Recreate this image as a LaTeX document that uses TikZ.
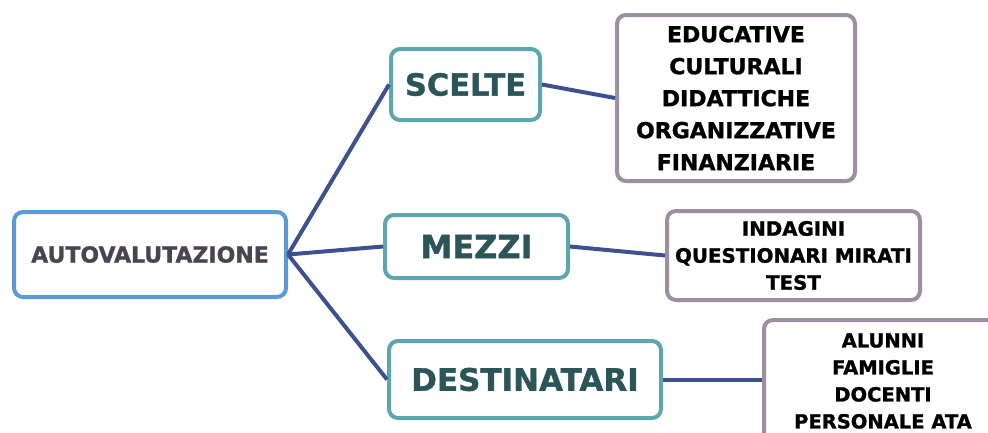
\documentclass[tikz,border=0pt]{standalone}
\usepackage{fontspec}
\setmainfont{DejaVu Sans}[BoldFeatures={FakeBold=1.2}]
\definecolor{autoblue}{HTML}{5B9BD5}
\definecolor{tealb}{HTML}{5DA5B0}
\definecolor{purpb}{HTML}{9D8EA0}
\definecolor{tealtext}{HTML}{2C5559}
\definecolor{autotext}{HTML}{4B4450}
\definecolor{connblue}{HTML}{3D5191}
\begin{document}
\begin{tikzpicture}[x=1pt,y=-1pt,
  box/.style={draw, line width=4pt, rounded corners=9pt, fill=white, align=center, inner sep=0pt},
  rootbox/.style={box, draw=autoblue, text=autotext, font=\bfseries\fontsize{22}{26}\selectfont},
  midbox/.style={box, draw=tealb, text=tealtext},
  leafbox/.style={box, draw=purpb, text=black},
  conn/.style={draw=connblue, line width=4pt}]
\useasboundingbox (0,0) rectangle (988,432);

\node[rootbox, minimum width=272pt, minimum height=85pt] (auto) at (150,254.5) {AUTOVALUTAZIONE};

\node[midbox, minimum width=149pt, minimum height=71pt, font=\bfseries\fontsize{30.5}{34}\selectfont] (scelte) at (465.5,84.5) {SCELTE};
\node[midbox, minimum width=183pt, minimum height=63pt, font=\bfseries\fontsize{32}{36}\selectfont] (mezzi) at (476.5,246.5) {MEZZI};
\node[midbox, minimum width=272pt, minimum height=77pt, font=\bfseries\fontsize{31}{36}\selectfont] (dest) at (525,379.5) {DESTINATARI};

\node[leafbox, minimum width=238pt, minimum height=166pt, font=\bfseries\fontsize{22}{32}\selectfont] (scelteleaf) at (736,98) {EDUCATIVE\\CULTURALI\\DIDATTICHE\\ORGANIZZATIVE\\FINANZIARIE};
\node[leafbox, minimum width=253pt, minimum height=89pt, font=\bfseries\fontsize{19.8}{27}\selectfont] (mezzileaf) at (793.5,255.5) {INDAGINI\\QUESTIONARI MIRATI\\TEST};
\node[leafbox, minimum width=238pt, minimum height=122pt, font=\bfseries\fontsize{19.5}{27}\selectfont] (destleaf) at (883,381) {ALUNNI\\FAMIGLIE\\DOCENTI\\PERSONALE ATA};

\draw[conn] (auto.east) -- (scelte.west);
\draw[conn] (auto.east) -- (mezzi.west);
\draw[conn] (auto.east) -- (dest.west);
\draw[conn] (scelte.east) -- (scelteleaf.west);
\draw[conn] (mezzi.east) -- (mezzileaf.west);
\draw[conn] (dest.east) -- (dest.east -| destleaf.west);
\end{tikzpicture}
\end{document}
